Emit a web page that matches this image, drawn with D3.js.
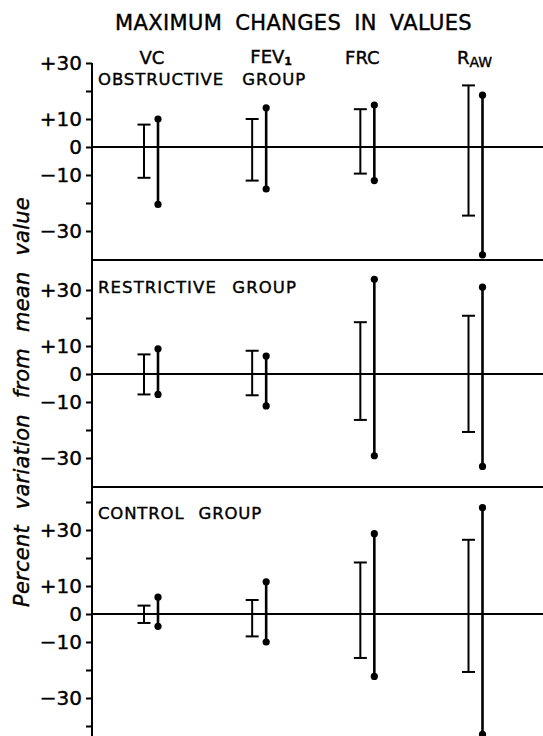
<!DOCTYPE html>
<html>
<head>
<meta charset="utf-8">
<script src="https://cdn.jsdelivr.net/npm/d3@7"></script>
<style>
  body { margin: 0; background: #fff; }
  svg { display: block; }
  text { font-family: "DejaVu Sans", sans-serif; fill: #000; stroke: #000; stroke-width: 0.4px; }
</style>
</head>
<body>
<script>
// categories and groups
const categories = ["VC", "FEV1", "FRC", "RAW"];
const groupNames = ["OBSTRUCTIVE GROUP", "RESTRICTIVE GROUP", "CONTROL GROUP"];

// [high, low] percent variation, capped "I" bars and dotted bars
const obstructiveBars = [[8, -11], [10, -12], [13.5, -9.5], [22, -24.5]];
const obstructiveDots = [[10, -20.5], [14, -15], [15, -12], [18.5, -38.5]];
const restrictiveBars = [[7, -7.3], [8.3, -7.6], [18.5, -16.4], [20.8, -20.7]];
const restrictiveDots = [[9, -7.3], [6.4, -11.4], [33.8, -29.2], [31, -33]];
const controlBars = [[3, -3.2], [5, -8], [18.4, -15.7], [26.5, -20.7]];
const controlDots = [[6, -4.4], [11.5, -10], [28.7, -22.3], [38, -43]];

// tick labels
const panelTicks = [
  [30, 20, 10, 0, -10, -20, -30],
  [30, 20, 10, 0, -10, -20, -30],
  [40, 30, 20, 10, 0, -10, -20, -30, -40]
];
const labelledTicks = [30, 10, 0, -10, -30];

const width = 543, height = 736;
const axisX = 92;
const zeros = [147, 374, 614];
const dividers = [260, 487];

const svg = d3.select("body").append("svg")
  .attr("width", width)
  .attr("height", height);

// widen word gaps a bit, then letters, so a text fills the given width
function fitText(sel, target, wordGap) {
  const node = sel.node();
  sel.style("word-spacing", wordGap + "px");
  const natural = node.getComputedTextLength();
  const n = node.textContent.length;
  if (natural < target) sel.style("letter-spacing", ((target - natural) / n) + "px");
  return sel;
}

const x = d3.scalePoint()
  .domain(categories)
  .range([144, 468.5]);
const dotOffset = 14;

const panels = [
  { name: groupNames[0], bars: obstructiveBars, dots: obstructiveDots, labelY: 85, labelLen: 208, gap: 12 },
  { name: groupNames[1], bars: restrictiveBars, dots: restrictiveDots, labelY: 293, labelLen: 199, gap: 9 },
  { name: groupNames[2], bars: controlBars, dots: controlDots, labelY: 519, labelLen: 164, gap: 8 }
];

const fmt = v => labelledTicks.includes(v)
  ? (v > 0 ? "+" : v < 0 ? "\u2212" : "") + Math.abs(v)
  : "";

panels.forEach((p, i) => {
  const y = d3.scaleLinear()
    .domain([-40, 40])
    .range([zeros[i] + 112, zeros[i] - 112]);

  const g = svg.append("g");

  // zero line
  g.append("line")
    .attr("x1", axisX).attr("x2", width)
    .attr("y1", y(0)).attr("y2", y(0))
    .attr("stroke", "#000").attr("stroke-width", 2);

  // axis ticks and labels
  const ax = g.append("g")
    .attr("transform", `translate(${axisX},0)`)
    .call(d3.axisLeft(y).tickValues(panelTicks[i]).tickSize(6).tickPadding(4).tickFormat(fmt));
  ax.select(".domain").remove();
  ax.selectAll(".tick line").attr("stroke", "#000").attr("stroke-width", 2);
  ax.selectAll(".tick text")
    .style("font-family", "DejaVu Sans, sans-serif")
    .style("font-size", "20px")
    .attr("fill", "#000");

  // group label
  fitText(g.append("text")
    .attr("x", 98).attr("y", p.labelY)
    .style("font-size", "16.5px")
    .text(p.name), p.labelLen, p.gap);

  // capped bars
  const bars = g.selectAll(".bar").data(p.bars).enter().append("g").attr("class", "bar");
  bars.append("line")
    .attr("x1", (d, j) => x(categories[j])).attr("x2", (d, j) => x(categories[j]))
    .attr("y1", d => y(d[0])).attr("y2", d => y(d[1]))
    .attr("stroke", "#000").attr("stroke-width", 2);
  [0, 1].forEach(k => {
    bars.append("line")
      .attr("x1", (d, j) => x(categories[j]) - 6.5).attr("x2", (d, j) => x(categories[j]) + 6.5)
      .attr("y1", d => y(d[k])).attr("y2", d => y(d[k]))
      .attr("stroke", "#000").attr("stroke-width", 2);
  });

  // dotted bars
  const dots = g.selectAll(".dot").data(p.dots).enter().append("g").attr("class", "dot");
  dots.append("line")
    .attr("x1", (d, j) => x(categories[j]) + dotOffset).attr("x2", (d, j) => x(categories[j]) + dotOffset)
    .attr("y1", d => y(d[0])).attr("y2", d => y(d[1]))
    .attr("stroke", "#000").attr("stroke-width", 2.6);
  [0, 1].forEach(k => {
    dots.append("circle")
      .attr("cx", (d, j) => x(categories[j]) + dotOffset)
      .attr("cy", d => y(d[k]))
      .attr("r", 3.6)
      .attr("fill", "#000");
  });
});

// vertical axis line
svg.append("line")
  .attr("x1", axisX).attr("x2", axisX)
  .attr("y1", zeros[0] - 84).attr("y2", height)
  .attr("stroke", "#000").attr("stroke-width", 2);

// panel dividers
dividers.forEach(d => {
  svg.append("line")
    .attr("x1", axisX).attr("x2", width)
    .attr("y1", d).attr("y2", d)
    .attr("stroke", "#000").attr("stroke-width", 2);
});

// title
fitText(svg.append("text")
  .attr("x", 115).attr("y", 30)
  .style("font-size", "21px")
  .text("MAXIMUM CHANGES IN VALUES"), 357, 6);

// category headers
const head = svg.append("g").style("font-size", "18px").attr("text-anchor", "middle");
head.append("text").attr("x", x("VC") + 8).attr("y", 64).text("VC");
const fev = head.append("text").attr("x", x("FEV1") + 19).attr("y", 63);
fev.append("tspan").text("FEV");
fev.append("tspan").attr("dy", 2).style("font-size", "11px").style("font-weight", "bold").text("1");
head.append("text").attr("x", x("FRC") + 2).attr("y", 64).text("FRC");
const raw = head.append("text").attr("x", x("RAW") + 6).attr("y", 64);
raw.append("tspan").text("R");
raw.append("tspan").attr("dy", 3).style("font-size", "14px").text("AW");

// y axis title
fitText(svg.append("text")
  .attr("x", 0).attr("y", 0)
  .attr("transform", "translate(29,197) rotate(-90)")
  .attr("text-anchor", "end")
  .style("font-size", "21px")
  .style("font-style", "italic")
  .text("Percent variation from mean value"), 410, 9);
</script>
</body>
</html>
